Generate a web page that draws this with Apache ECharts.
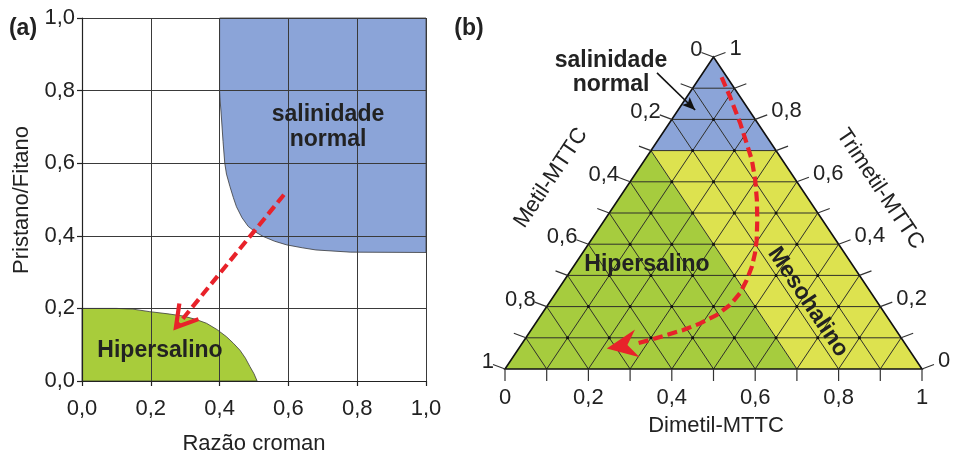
<!DOCTYPE html>
<html><head><meta charset="utf-8">
<script src="https://cdn.jsdelivr.net/npm/echarts@6/dist/echarts.min.js"></script>
<style>html,body{margin:0;padding:0;background:#fff}#c{width:953px;height:450px}</style>
</head><body><div id="c"></div>
<script>
// ---------- Panel (a): Razão croman x Pristano/Fitano ----------
const axisTicksA = [0, 0.2, 0.4, 0.6, 0.8, 1.0];
const axisTickLabelsA = ['0,0', '0,2', '0,4', '0,6', '0,8', '1,0'];
// boundary of "salinidade normal" field [Razão croman, Pristano/Fitano]
const normalFieldA = [[0.40,1.00],[0.40,0.80],[0.401,0.78],[0.405,0.73],[0.41,0.66],[0.415,0.60],[0.42,0.57],[0.43,0.536],[0.44,0.505],[0.449,0.48],[0.465,0.45],[0.483,0.426],[0.505,0.41],[0.527,0.398],[0.56,0.385],[0.595,0.375],[0.64,0.367],[0.68,0.361],[0.78,0.355],[1.00,0.354],[1.00,1.00]];
// boundary of "Hipersalino" field
const hyperFieldA = [[0,0],[0,0.2],[0.10,0.2],[0.148,0.198],[0.197,0.191],[0.25,0.185],[0.294,0.179],[0.33,0.17],[0.362,0.159],[0.392,0.142],[0.42,0.122],[0.44,0.104],[0.459,0.085],[0.475,0.063],[0.488,0.04],[0.50,0.02],[0.509,0]];
// trend arrow (start, tip)
const trendA = [[0.587,0.513],[0.273,0.148]];

// ---------- Panel (b): ternary Metil / Dimetil / Trimetil-MTTC ----------
const ternTicks = [0,0.1,0.2,0.3,0.4,0.5,0.6,0.7,0.8,0.9,1];
const dimetilLabels  = ['0','','0,2','','0,4','','0,6','','0,8','','1'];
const metilLabels    = ['0','','0,2','','0,4','','0,6','','0,8','','1'];
const trimetilLabels = ['0','','0,2','','0,4','','0,6','','0,8','','1'];
// fields as [Metil, Dimetil, Trimetil]
const normalFieldB = [[0.3,0,0.7],[0,0.3,0.7],[0,0,1]];
const hyperFieldB  = [[1,0,0],[0.3,0.7,0],[0.3,0,0.7]];
const mesoFieldB   = [[0.3,0,0.7],[0.3,0.7,0],[0,1,0],[0,0.3,0.7]];
// trend curve as [Dimetil, Trimetil]; last point is the arrow tip
const trendB = [[0.052,0.935],[0.103,0.873],[0.170,0.788],[0.218,0.723],[0.257,0.670],[0.297,0.606],[0.333,0.542],[0.366,0.478],[0.397,0.413],[0.414,0.371],[0.428,0.328],[0.437,0.285],[0.442,0.243],[0.437,0.205],[0.421,0.173],[0.395,0.146],[0.365,0.125],[0.333,0.109],[0.301,0.093],[0.275,0.082],[0.211,0.066]];
// pointer of the "salinidade normal" label [Dimetil, Trimetil]
const pointerB = [[-0.11,0.949],[0.041,0.830]];

const FONT = '"Liberation Sans", Arial, Helvetica, sans-serif';
const BLUE = '#8ba4d8', GREEN_A = '#a8cc3b', GREEN_B = '#a6cc3e', YELLOW = '#dde24f', RED = '#e8222a', INK = '#222';

function fmtA(v) {
  const i = axisTicksA.findIndex(t => Math.abs(t - v) < 1e-6);
  return i >= 0 ? axisTickLabelsA[i] : '';
}

function arrowHeadFilled(tip, prev, len, half, notch, fill) {
  const dx = tip[0] - prev[0], dy = tip[1] - prev[1];
  const L = Math.hypot(dx, dy) || 1;
  const ux = dx / L, uy = dy / L, nx = -uy, ny = ux;
  return {type: 'polygon', shape: {points: [
    tip,
    [tip[0] - len * ux + half * nx, tip[1] - len * uy + half * ny],
    [tip[0] - notch * ux, tip[1] - notch * uy],
    [tip[0] - len * ux - half * nx, tip[1] - len * uy - half * ny]
  ]}, style: {fill: fill}};
}

function renderRegionsA(params, api) {
  return {type: 'group', children: [
    {type: 'polygon', shape: {points: normalFieldA.map(c => api.coord(c))}, style: {fill: BLUE, stroke: '#3a3a3a', lineWidth: 0.8}},
    {type: 'polygon', shape: {points: hyperFieldA.map(c => api.coord(c))}, style: {fill: GREEN_A, stroke: '#3a3a3a', lineWidth: 0.8}}
  ]};
}

function renderTrendA(params, api) {
  const s = api.coord(trendA[0]), t = api.coord(trendA[1]);
  const a = Math.atan2(s[1] - t[1], s[0] - t[0]);
  const L = 24, phi = 0.54;
  const w1 = [t[0] + L * Math.cos(a + phi), t[1] + L * Math.sin(a + phi)];
  const w2 = [t[0] + L * Math.cos(a - phi), t[1] + L * Math.sin(a - phi)];
  const e = [t[0] + 3 * Math.cos(a), t[1] + 3 * Math.sin(a)];
  return {type: 'group', children: [
    {type: 'line', shape: {x1: s[0], y1: s[1], x2: e[0], y2: e[1]}, style: {stroke: RED, lineWidth: 4.2, lineDash: [10, 5]}},
    {type: 'polyline', shape: {points: [w1, t, w2]}, style: {stroke: RED, lineWidth: 4.2, fill: null, lineJoin: 'miter'}}
  ]};
}

function renderTernary(params, api) {
  const P = (d, t) => api.coord([d + t / 2, t]);
  const PM = c => P(c[1], c[2]);
  const ch = [];
  const GRID = '#2f2f2a';
  ch.push({type: 'polygon', shape: {points: mesoFieldB.map(PM)}, style: {fill: YELLOW}});
  ch.push({type: 'polygon', shape: {points: hyperFieldB.map(PM)}, style: {fill: GREEN_B}});
  ch.push({type: 'polygon', shape: {points: normalFieldB.map(PM)}, style: {fill: BLUE}});
  const seg = (a, b, w, c) => ch.push({type: 'line', shape: {x1: a[0], y1: a[1], x2: b[0], y2: b[1]}, style: {stroke: c || GRID, lineWidth: w || 1}});
  ternTicks.forEach(v => {
    if (v <= 0 || v >= 1) return;
    seg(P(0, v), P(1 - v, v));          // Trimetil constant
    seg(P(v, 0), P(v, 1 - v));          // Dimetil constant
    seg(P(1 - v, 0), P(0, 1 - v));      // Metil constant
  });
  // nodes
  ternTicks.forEach(d => ternTicks.forEach(t => {
    if (d > 0 && t > 0 && d + t < 0.999) {
      const p = P(d, t);
      ch.push({type: 'circle', shape: {cx: p[0], cy: p[1], r: 1.5}, style: {fill: '#111'}});
    }
  }));
  ch.push({type: 'polygon', shape: {points: [P(0, 0), P(1, 0), P(0, 1)]}, style: {fill: null, stroke: '#111', lineWidth: 1.6}});
  const lab = (txt, x, y, align) => ch.push({type: 'text', style: {text: txt, x: x, y: y, fill: INK, font: '22px ' + FONT, align: align, verticalAlign: 'middle'}});
  ternTicks.forEach((v, i) => {
    let p = P(v, 0);
    seg(p, [p[0], p[1] + 12], 1.2, '#333');
    if (dimetilLabels[i]) lab(dimetilLabels[i], p[0], p[1] + 29, 'center');
    p = P(0, 1 - v);
    seg(p, [p[0] - 12, p[1] - 4.5], 1.2, '#333');
    if (metilLabels[i]) lab(metilLabels[i], p[0] - 11, p[1] - 7, 'right');
    p = P(1 - v, v);
    seg(p, [p[0] + 12, p[1] - 4.5], 1.2, '#333');
    if (trimetilLabels[i]) lab(trimetilLabels[i], p[0] + 16, p[1] - 8, 'left');
  });
  // red trend curve
  const pts = trendB.map(c => P(c[0], c[1]));
  const tip = pts[pts.length - 1], prev = pts[pts.length - 2];
  ch.push({type: 'polyline', shape: {points: pts.slice(0, pts.length - 1)}, style: {stroke: RED, lineWidth: 4.2, lineDash: [10, 5], fill: null}});
  ch.push(arrowHeadFilled(tip, prev, 31, 14, 21, RED));
  // black pointer
  const a0 = P(pointerB[0][0], pointerB[0][1]), a1 = P(pointerB[1][0], pointerB[1][1]);
  seg(a0, a1, 1.6, '#111');
  ch.push(arrowHeadFilled(a1, a0, 13, 5.5, 10, '#111'));
  return {type: 'group', children: ch};
}

const txt = (t, x, y, opt) => Object.assign({type: 'text', x: x, y: y, z: 100,
  style: {text: t, fill: INK, font: (opt && opt.font) || ('bold 23px ' + FONT), align: 'center', verticalAlign: 'middle'}},
  opt && opt.rotation !== undefined ? {rotation: opt.rotation} : {});
const ROT = Math.atan2(312, 417 / 2);

const option = {
  animation: false,
  backgroundColor: '#fff',
  grid: [
    {left: 82, top: 18, width: 344, height: 363, containLabel: false, outerBoundsMode: 'none'},
    {left: 505, top: 57, width: 417, height: 312, containLabel: false, outerBoundsMode: 'none'}
  ],
  xAxis: [
    {gridIndex: 0, type: 'value', min: 0, max: 1, interval: 0.2, z: 3,
      axisLine: {show: true, onZero: false, lineStyle: {color: INK, width: 1.2}},
      axisTick: {show: true, inside: false, length: 5, lineStyle: {color: INK, width: 1.2}},
      axisLabel: {formatter: fmtA, fontSize: 22, color: INK, fontFamily: FONT, margin: 17},
      splitLine: {show: true, lineStyle: {color: '#3a3a3a', width: 1}}},
    {gridIndex: 1, type: 'value', min: 0, max: 1, show: false}
  ],
  yAxis: [
    {gridIndex: 0, type: 'value', min: 0, max: 1, interval: 0.2, z: 3,
      axisLine: {show: true, onZero: false, lineStyle: {color: INK, width: 1.2}},
      axisTick: {show: true, inside: false, length: 5, lineStyle: {color: INK, width: 1.2}},
      axisLabel: {formatter: fmtA, fontSize: 22, color: INK, fontFamily: FONT, margin: 7},
      splitLine: {show: true, lineStyle: {color: '#3a3a3a', width: 1}}},
    {gridIndex: 1, type: 'value', min: 0, max: 1, show: false}
  ],
  series: [
    {type: 'custom', xAxisIndex: 0, yAxisIndex: 0, z: 1, silent: true, data: [0], renderItem: renderRegionsA},
    {type: 'custom', xAxisIndex: 0, yAxisIndex: 0, z: 10, silent: true, data: [0], renderItem: renderTrendA},
    {type: 'custom', xAxisIndex: 1, yAxisIndex: 1, z: 5, silent: true, data: [0], renderItem: renderTernary}
  ],
  graphic: [
    txt('(a)', 23, 29),
    txt('(b)', 469, 29),
    txt('salinidade', 328, 115),
    txt('normal', 328, 140),
    txt('Hipersalino', 160, 351),
    txt('Razão croman', 254, 444, {font: '22px ' + FONT}),
    txt('Pristano/Fitano', 22, 200, {font: '22px ' + FONT, rotation: Math.PI / 2}),
    txt('salinidade', 611, 61),
    txt('normal', 611, 85),
    txt('Hipersalino', 647, 265),
    txt('Mesohalino', 808, 302, {rotation: -ROT}),
    txt('Metil-MTTC', 551, 178, {font: '22px ' + FONT, rotation: ROT}),
    txt('Trimetil-MTTC', 880, 189, {font: '22px ' + FONT, rotation: -ROT}),
    txt('Dimetil-MTTC', 716, 426, {font: '22px ' + FONT})
  ]
};

const chart = echarts.init(document.getElementById('c'), null, {renderer: 'canvas', width: 953, height: 450});
chart.setOption(option);
</script>
</body></html>
